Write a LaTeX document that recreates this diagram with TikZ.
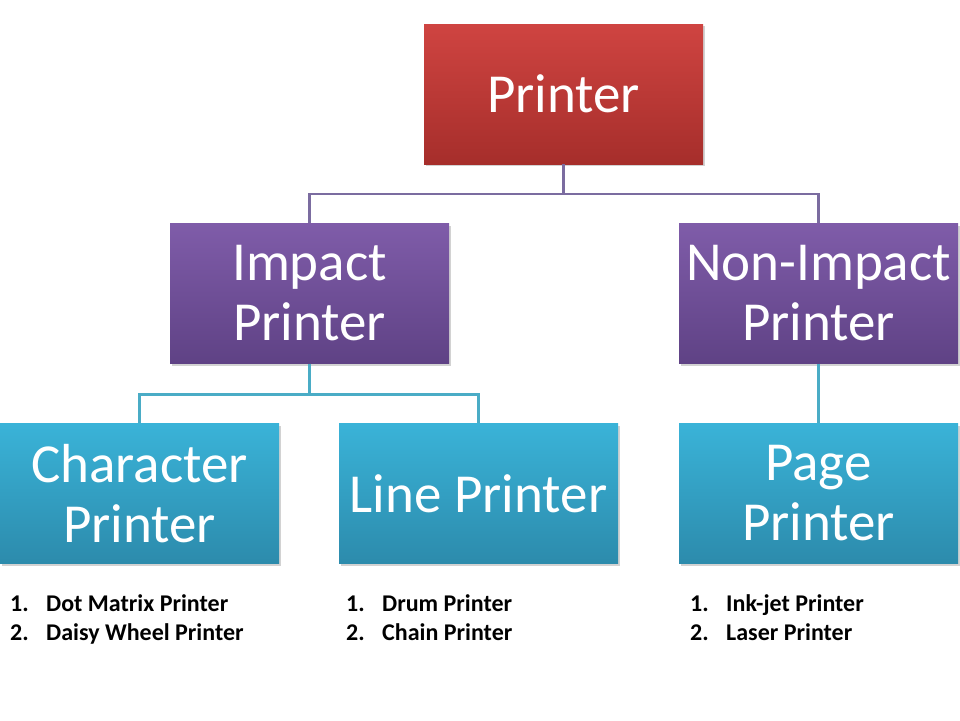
\documentclass[tikz,border=0pt]{standalone}
\usepackage{fontspec}
\setmainfont{Carlito}
\usetikzlibrary{shadows}
\definecolor{redtop}{HTML}{CF4441}
\definecolor{redbot}{HTML}{A62E2B}
\definecolor{purtop}{HTML}{7F5CA9}
\definecolor{purbot}{HTML}{5F4285}
\definecolor{cyantop}{HTML}{3AB3D8}
\definecolor{cyanbot}{HTML}{2C8BAC}
\definecolor{linepur}{HTML}{7B6CA0}
\definecolor{linecyan}{HTML}{4AACC6}
\tikzset{
  box/.style={rectangle, minimum width=279pt, minimum height=140pt, inner sep=0pt,
    align=center, text=white, font=\fontsize{55}{60}\selectfont,
    drop shadow={shadow xshift=2pt, shadow yshift=-2pt, opacity=0.35}},
  redbox/.style={box, top color=redtop, bottom color=redbot},
  purbox/.style={box, top color=purtop, bottom color=purbot},
  cyanbox/.style={box, top color=cyantop, bottom color=cyanbot},
  conpur/.style={draw=linepur, line width=2.5pt},
  concyan/.style={draw=linecyan, line width=2.5pt},
  item/.style={anchor=base west, inner sep=0pt, font=\bfseries\fontsize{24}{28}\selectfont}
}
\begin{document}
\begin{tikzpicture}[x=1pt,y=-1pt]
\fill[white] (0,0) rectangle (960,720);
\useasboundingbox (0,0) rectangle (960,720);
\node[redbox] (printer) at (563.5,94) {Printer};
\node[purbox] (impact) at (309.5,293.5) {Impact\\Printer};
\node[purbox] (nonimpact) at (818.5,293.5) {Non-Impact\\Printer};
\node[cyanbox] (char) at (139.5,493.5) {Character\\Printer};
\node[cyanbox] (line) at (478.5,493.5) {Line Printer};
\node[cyanbox] (page) at (818.5,493.5) {Page\\Printer};
\draw[conpur] (printer.south) -- ++(0,30) -| (impact.north);
\draw[conpur] (printer.south) -- ++(0,30) -| (nonimpact.north);
\draw[concyan] (impact.south) -- ++(0,31) -| (char.north);
\draw[concyan] (impact.south) -- ++(0,31) -| (line.north);
\draw[concyan] (nonimpact.south) -- (page.north);
% lists
\node[item] (n1a) at (10,611) {1.};
\node[item] (t1a) at (46,611) {Dot Matrix Printer};
\node[item] (n1b) at (10,640) {2.};
\node[item] (t1b) at (46,640) {Daisy Wheel Printer};
\node[item] (n2a) at (346,611) {1.};
\node[item] (t2a) at (382,611) {Drum Printer};
\node[item] (n2b) at (346,640) {2.};
\node[item] (t2b) at (382,640) {Chain Printer};
\node[item] (n3a) at (690,611) {1.};
\node[item] (t3a) at (726,611) {Ink-jet Printer};
\node[item] (n3b) at (690,640) {2.};
\node[item] (t3b) at (726,640) {Laser Printer};
\end{tikzpicture}
\end{document}
